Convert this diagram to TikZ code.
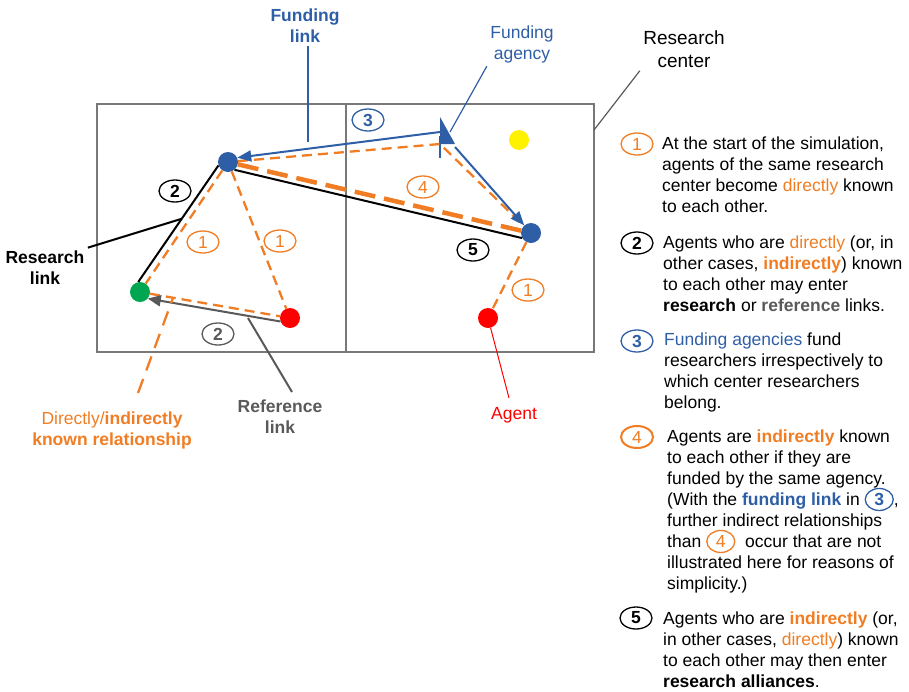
\documentclass[tikz,border=0pt]{standalone}
\usepackage{fontspec}
\setmainfont{Liberation Sans}
\usepackage{tikz}
\usetikzlibrary{arrows.meta,shapes.geometric}

\definecolor{fundblue}{RGB}{46,94,166}
\definecolor{knownorange}{RGB}{240,125,35}
\definecolor{refgray}{RGB}{89,89,89}
\definecolor{agentred}{RGB}{255,0,0}
\definecolor{seedgreen}{RGB}{0,166,80}
\definecolor{boxgray}{RGB}{120,120,120}

\tikzset{
  agent/.style={circle, fill=#1, minimum size=20pt, inner sep=0pt},
  num/.style={ellipse, draw=#1, text=#1, line width=1.3pt, minimum width=32pt, minimum height=22pt, inner sep=0pt},
  known/.style={draw=knownorange, line width=2.3pt, dash pattern=on 10pt off 6pt},
  legend/.style={anchor=north west, align=left, inner sep=0pt},
}

\newcommand{\inum}[2]{\smash{\tikz[baseline=(inl.base)] \node[num=#1, minimum width=28pt] (inl) {#2};}}

\begin{document}
\begin{tikzpicture}[x=1pt, y=-1pt, font=\fontsize{17.5}{21}\selectfont]
\useasboundingbox (0,0) rectangle (909,691);

% research centers
\draw[boxgray, line width=1.4pt] (97,104) rectangle (594,352);
\draw[boxgray, line width=1.4pt] (346,104) -- (346,352);

\node (ra) [agent=fundblue] at (228,162) {};
\node (rb) [agent=fundblue] at (531,233) {};
\node (rg) [agent=seedgreen] at (140,292) {};
\node (rr) [agent=agentred] at (290,318) {};
\node (rs) [agent=agentred] at (488,318) {};
\node (ry) [agent=yellow] at (519,140) {};

% funding agency
\fill[fundblue] (440,117) -- (455,144) -- (440,144) -- cycle;
\draw[fundblue, line width=1.8pt] (440,136) -- (440,158);
\coordinate (fa) at (440,132);
\coordinate (fb) at (455,147);
\coordinate (fk) at (440,144);

% known relationships
\draw[known] (ra) -- (rg);
\draw[known] (ra) -- (rr);
\draw[known] (rg) -- (rr);
\draw[known] (rb) -- (rs);
\draw[known] (ra) -- (fk) -- (rb);
\draw[known, line width=4.5pt, dash pattern=on 21pt off 9pt] (ra) -- (rb);

% links
\draw[black, line width=2pt] (rg.100) -- (ra.200);
\draw[black, line width=2pt] (ra.-50) -- (rb.-150);
\draw[refgray, line width=2pt, -{Triangle[length=13pt,width=11pt]}] (rr.200) -- (rg.-40);
\draw[fundblue, line width=2pt, -{Triangle[length=14pt,width=11pt]}] (fa) -- (ra.25);
\draw[fundblue, line width=2pt, -{Triangle[length=14pt,width=11pt]}] (fb) -- (rb);

% step numbers
\node (n1a) [num=knownorange] at (203,242) {1};
\node (n1b) [num=knownorange] at (280,241) {1};
\node (n1c) [num=knownorange] at (528,290) {1};
\node (n2a) [num=black, font=\fontsize{17.5}{21}\selectfont\bfseries] at (175,191) {2};
\node (n2b) [num=refgray, font=\fontsize{17.5}{21}\selectfont\bfseries] at (218,334) {2};
\node (n3) [num=fundblue, font=\fontsize{17.5}{21}\selectfont\bfseries] at (368,120) {3};
\node (n4) [num=knownorange] at (423,187) {4};
\node (n5) [num=black, font=\fontsize{17.5}{21}\selectfont\bfseries] at (473,250) {5};

% labels
\node (lfund) [fundblue, align=center, font=\fontsize{17.5}{21}\selectfont\bfseries] at (305,26) {Funding\\link};
\coordinate (pfund) at (308,142);
\draw[fundblue, line width=2pt] (lfund.south -| pfund) -- (pfund);

\node (lagency) [fundblue, align=center] at (522,44) {Funding\\agency};
\coordinate (pagency) at (450,132);
\draw[fundblue, line width=1.2pt] (lagency.south west) -- (pagency);

\node (lcenter) [align=center, font=\fontsize{19}{22.5}\selectfont] at (684,49) {Research\\center};
\coordinate (pcenter) at (594,130);
\draw[refgray, line width=1.2pt] (lcenter.south west) -- (pcenter);

\node (lresearch) [align=center, font=\fontsize{17.5}{21}\selectfont\bfseries] at (45,268) {Research\\link};
\coordinate (presearch) at (181,219);
\draw[black, line width=2pt] (lresearch.north east) -- (presearch);

\node (lknown) [knownorange, align=center] at (112,430) {Directly/\textbf{indirectly}\\\textbf{known relationship}};
\coordinate (kbot) at (138,393);
\coordinate (ktop) at (173,298);
\draw[known, dash pattern=on 15pt off 9pt] (kbot) -- (ktop);

\node (lref) [refgray, align=center, font=\fontsize{17.5}{21}\selectfont\bfseries] at (280,417) {Reference\\link};
\coordinate (rbot) at (292,392);
\coordinate (rtop) at (248,318);
\draw[refgray, line width=2pt] (rbot) -- (rtop);

\node (lagent) [agentred] at (514,415) {Agent};
\coordinate (pagent) at (509,398);
\draw[agentred, line width=1pt] (rs) -- (pagent);

% legend
\node (c1) [num=knownorange] at (637,144) {1};
\node (c2) [num=black, font=\fontsize{17.5}{21}\selectfont\bfseries] at (637,243) {2};
\node (c3) [num=fundblue, font=\fontsize{17.5}{21}\selectfont\bfseries] at (637,341) {3};
\node (c4) [num=knownorange, line width=2pt] at (637,437) {4};
\node (c5) [num=black, font=\fontsize{17.5}{21}\selectfont\bfseries] at (636,618) {5};

\node (t1) [legend] at (662,136.6) {At the start of the simulation,\\agents of the same research\\center become \textcolor{knownorange}{directly} known\\to each other.};
\node (t2) [legend] at (663,235.5) {Agents who are \textcolor{knownorange}{directly} (or, in\\other cases, \textcolor{knownorange}{\textbf{indirectly}}) known\\to each other may enter\\\textbf{research} or \textcolor{refgray}{\textbf{reference}} links.};
\node (t3) [legend] at (664,332.6) {\textcolor{fundblue}{Funding agencies} fund\\researchers irrespectively to\\which center researchers\\belong.};
\node (t4) [legend] at (667,429.6) {Agents are \textcolor{knownorange}{\textbf{indirectly}} known\\to each other if they are\\funded by the same agency.\\(With the \textcolor{fundblue}{\textbf{funding link}} in \inum{fundblue}{\textbf{3}},\\further indirect relationships\\than \inum{knownorange}{4}\ \ occur that are not\\illustrated here for reasons of\\simplicity.)};
\node (t5) [legend] at (663,611.6) {Agents who are \textcolor{knownorange}{\textbf{indirectly}} (or,\\in other cases, \textcolor{knownorange}{directly}) known\\to each other may then enter\\\textbf{research alliances}.};
\end{tikzpicture}
\end{document}
